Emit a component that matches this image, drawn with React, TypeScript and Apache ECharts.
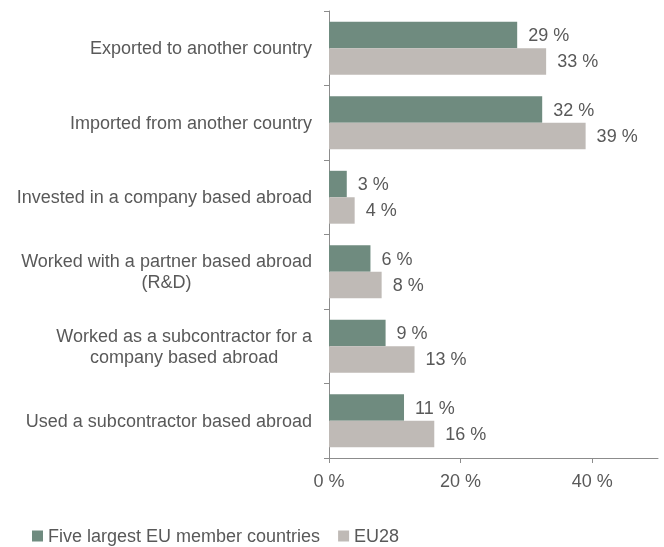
import React, { useEffect, useRef } from "react";
import * as echarts from "echarts";

const categories: string[] = [
  "Exported to another country",
  "Imported from another country",
  "Invested in a company based abroad",
  "Worked with a partner based abroad\n(R&D)",
  "Worked as a subcontractor for a\ncompany based abroad",
  "Used a subcontractor based abroad",
];
const seriesNames: string[] = ["Five largest EU member countries", "EU28"];
const fiveLargest: number[] = [28.6, 32.4, 2.7, 6.3, 8.6, 11.4];
const eu28: number[] = [33.0, 39.0, 3.9, 8.0, 13.0, 16.0];
const xTicks: number[] = [0, 20, 40];

const GREEN = "#6f8b7f";
const GREY = "#bfbab6";
const TEXT = "#595959";
const AXIS = "#8c8c8c";
const FONT = "'Liberation Sans', Arial, Helvetica, sans-serif";

export default function App() {
  const ref = useRef<HTMLDivElement>(null);
  useEffect(() => {
    if (!ref.current) return;
    const chart = echarts.init(ref.current, undefined, { renderer: "svg" });
    const label = {
      show: true,
      position: "right" as const,
      distance: 11,
      color: TEXT,
      fontSize: 18,
      fontFamily: FONT,
      formatter: (p: any) => Math.round(p.value) + " %",
    };
    chart.setOption({
      animation: false,
      textStyle: { fontFamily: FONT },
      grid: { left: 329, right: 6, top: 11, bottom: 89, containLabel: false },
      legend: {
        left: 27,
        top: 522,
        itemWidth: 11,
        itemHeight: 11,
        itemGap: 18,
        icon: "rect",
        textStyle: { color: TEXT, fontSize: 18, fontFamily: FONT },
        data: seriesNames,
      },
      xAxis: {
        type: "value",
        min: 0,
        max: 50,
        interval: 10,
        splitLine: { show: false },
        axisLine: { show: true, lineStyle: { color: AXIS, width: 1 } },
        axisTick: { show: true, length: 5, lineStyle: { color: AXIS }, customValues: xTicks },
        axisLabel: {
          color: TEXT,
          fontSize: 18,
          fontFamily: FONT,
          margin: 14,
          customValues: xTicks,
          formatter: (v: number) => v + " %",
        },
      },
      yAxis: {
        type: "category",
        inverse: true,
        data: categories,
        axisLine: { show: true, lineStyle: { color: AXIS, width: 1 } },
        axisTick: { show: true, length: 5, lineStyle: { color: AXIS } },
        axisLabel: {
          color: TEXT,
          fontSize: 18,
          fontFamily: FONT,
          lineHeight: 21,
          margin: 17,
          formatter: (v: string) =>
            v
              .split("\n")
              .map((line) => "{c|" + line + "}")
              .join("\n"),
          rich: {
            c: {
              align: "center",
              color: TEXT,
              fontSize: 18,
              fontFamily: FONT,
              lineHeight: 21,
            },
          },
        },
      },
      series: [
        {
          name: seriesNames[0],
          type: "bar",
          data: fiveLargest,
          barGap: "0%",
          barCategoryGap: "29%",
          itemStyle: { color: GREEN },
          label,
        },
        {
          name: seriesNames[1],
          type: "bar",
          data: eu28,
          barGap: "0%",
          barCategoryGap: "29%",
          itemStyle: { color: GREY },
          label,
        },
      ],
    });
    return () => chart.dispose();
  }, []);
  return (
    <div
      ref={ref}
      style={{ position: "fixed", left: 0, top: 0, width: 664, height: 547 }}
    />
  );
}
